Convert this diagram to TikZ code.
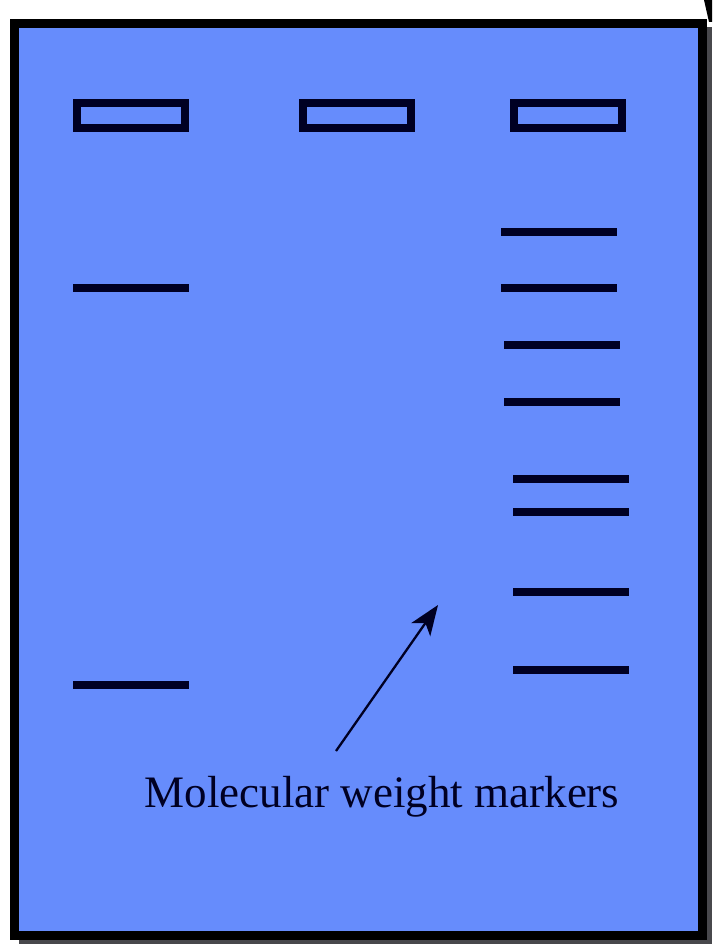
\documentclass[tikz,border=0pt]{standalone}
\usepackage{fontspec}
\setmainfont{Liberation Serif}
\usetikzlibrary{arrows.meta}
\definecolor{gelblue}{RGB}{102,140,252}
\definecolor{ink}{RGB}{0,0,35}
\definecolor{shadowgray}{RGB}{72,72,76}
\tikzset{
  well/.style={draw=ink, line width=8pt, minimum width=108pt, minimum height=25pt, inner sep=0pt},
  band/.style={fill=ink, minimum width=116pt, minimum height=8.5pt, inner sep=0pt},
  pointer/.style={draw=ink, line width=2.3pt, -{Stealth[length=30pt,width=23pt,inset=8pt]}},
  lbl/.style={text=ink, font=\fontsize{45}{50}\selectfont, inner sep=0pt}
}
\begin{document}
\begin{tikzpicture}[x=1pt,y=-1pt]
\useasboundingbox (0,0) rectangle (712,944);
% shadow
\fill[shadowgray] (19,27) rectangle (712,944);
% gel frame
\draw[fill=gelblue, draw=black, line width=9pt] (14.5,23.5) rectangle (702,935);
% small corner artifact
\fill[black] (704,0) -- (712,0) -- (712,22) -- (709,22) -- cycle;
% wells
\node[well] (w1) at (131,115.5) {};
\node[well] (w2) at (356.5,115.5) {};
\node[well] (w3) at (568,115.5) {};
% lane 1 bands
\node[band] (a1) at (131,288) {};
\node[band] (a2) at (131,685) {};
% marker bands
\node[band] (m1) at (559,232) {};
\node[band] (m2) at (559,288) {};
\node[band] (m3) at (562,345) {};
\node[band] (m4) at (562,402) {};
\node[band] (m5) at (571,479) {};
\node[band] (m6) at (571,512) {};
\node[band] (m7) at (571,592) {};
\node[band] (m8) at (571,670) {};
% label and arrow
\node[lbl, anchor=base] (label) at (382,807) {Molecular weight markers};
\coordinate (tail) at (336,751);
\coordinate (tip) at (438,605);
\draw[pointer] (tail) -- (tip);
\end{tikzpicture}
\end{document}
